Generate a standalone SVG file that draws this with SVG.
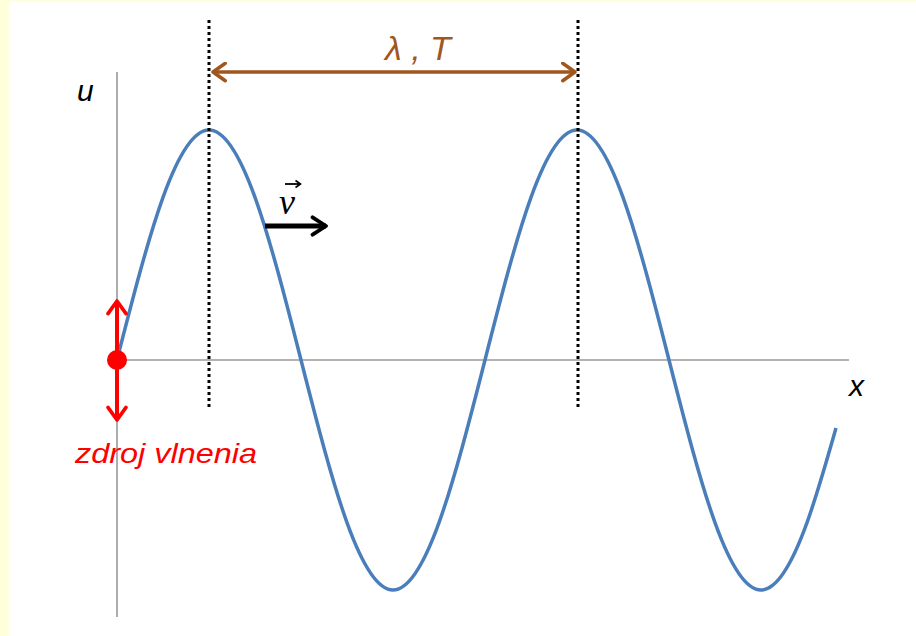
<svg xmlns="http://www.w3.org/2000/svg" width="916" height="636" viewBox="0 0 916 636">
<style>
.axis{stroke:#999;stroke-width:1.6;fill:none}
.dot{stroke:#000;stroke-width:3;stroke-dasharray:3,3;fill:none}
.wave{stroke:#4A7EBB;stroke-width:3.5;fill:none;stroke-linejoin:round}
.lbl{font-family:"Liberation Sans",Arial,sans-serif;font-style:italic}
</style>
<defs>
<marker id="brownHead" viewBox="0 0 12 12" refX="10" refY="6" markerWidth="6" markerHeight="6" markerUnits="strokeWidth" orient="auto-start-reverse">
<path d="M3,1 L10,6 L3,11" fill="none" stroke="#A0561C" stroke-width="2" stroke-linecap="round" stroke-linejoin="round"/>
</marker>
<marker id="blackHead" viewBox="0 0 12 12" refX="10" refY="6" markerWidth="4.6" markerHeight="4.6" markerUnits="strokeWidth" orient="auto">
<path d="M3,1.5 L10,6 L3,10.5" fill="none" stroke="#000" stroke-width="2" stroke-linecap="round" stroke-linejoin="round"/>
</marker>
<marker id="redHead" viewBox="0 0 12 12" refX="10" refY="6" markerWidth="5.4" markerHeight="5.4" markerUnits="strokeWidth" orient="auto">
<path d="M3,1 L10,6 L3,11" fill="none" stroke="#FF0000" stroke-width="2" stroke-linecap="round" stroke-linejoin="round"/>
</marker>
</defs>
<rect x="0" y="0" width="916" height="636" fill="#FFFFDC"/>
<rect x="9" y="2" width="907" height="634" fill="#FFFFFF"/>
<g id="axes">
<line class="axis" x1="117" y1="72" x2="117" y2="617"/>
<line class="axis" x1="117" y1="360" x2="849" y2="360"/>
<text class="lbl" x="77" y="101" font-size="30" fill="#000">u</text>
<text class="lbl" x="849" y="396" font-size="30" fill="#000">x</text>
</g>
<g id="wave">
<path class="wave" d="M117,360 C132.33,299.79 147.67,239.95 163,197.37 C178.33,154.79 193.67,130 209,130 C224.33,130 239.67,154.79 255,197.37 C270.33,239.95 285.67,299.79 301,360 C316.33,420.21 331.67,480.05 347,522.63 C362.33,565.21 377.67,590 393,590 C408.33,590 423.67,565.21 439,522.63 C454.33,480.05 469.67,420.21 485,360 C500.33,299.79 515.67,239.95 531,197.37 C546.33,154.79 561.67,130 577,130 C592.33,130 607.67,154.79 623,197.37 C638.33,239.95 653.67,299.79 669,360 C684.33,420.21 699.67,480.05 715,522.63 C730.33,565.21 745.67,590 761,590 C776.33,590 791.67,565.21 807,522.63 C816.67,495.78 826.33,462.17 836,428"/>
</g>
<g id="connectors">
<line class="dot" x1="209" y1="20" x2="209" y2="410"/>
<line class="dot" x1="578" y1="20" x2="578" y2="410"/>
<line x1="213" y1="72" x2="575" y2="72" stroke="#A0561C" stroke-width="3.5" marker-start="url(#brownHead)" marker-end="url(#brownHead)"/>
<line x1="265" y1="226" x2="326" y2="226" stroke="#000" stroke-width="5" marker-end="url(#blackHead)"/>
</g>
<g id="labels">
<text class="lbl" x="385" y="60" font-size="34" fill="#A0561C">λ , T</text>
<text x="279" y="214" font-family="'Liberation Serif','DejaVu Serif',serif" font-style="italic" font-size="36" fill="#000">v</text>
<line x1="285" y1="184" x2="300" y2="184" stroke="#000" stroke-width="1.8"/>
<path d="M295.5,180.5 L300.5,184 L295.5,187.5" fill="none" stroke="#000" stroke-width="1.6"/>
</g>
<g id="source">
<line x1="117" y1="360" x2="117" y2="301" stroke="#FF0000" stroke-width="4" marker-end="url(#redHead)"/>
<line x1="117" y1="360" x2="117" y2="420" stroke="#FF0000" stroke-width="4" marker-end="url(#redHead)"/>
<circle cx="117" cy="360" r="10" fill="#FF0000"/>
<text class="lbl" x="75" y="463" font-size="28" fill="#FF0000" textLength="182" lengthAdjust="spacingAndGlyphs">zdroj vlnenia</text>
</g>
</svg>
